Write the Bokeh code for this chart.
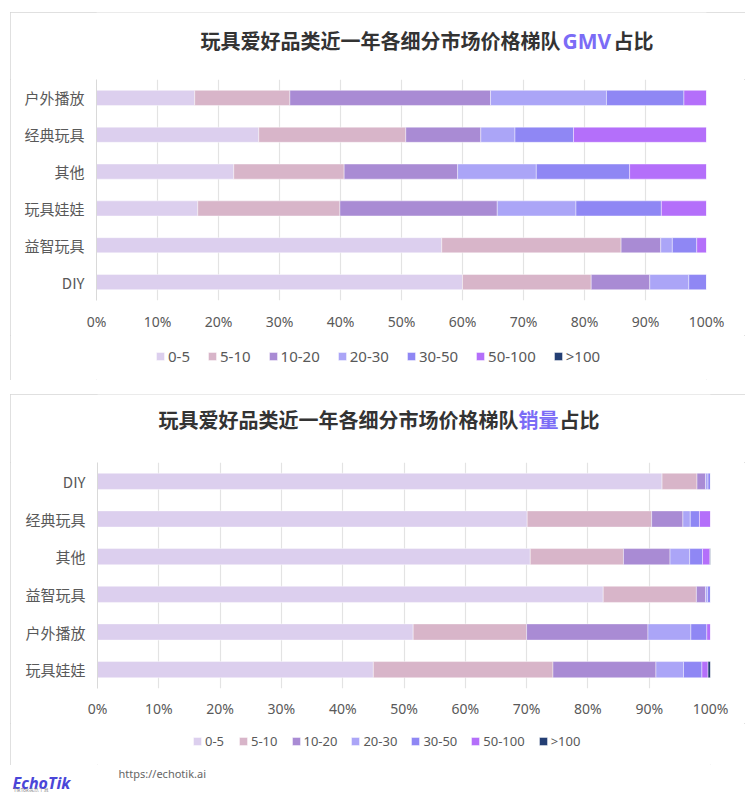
from bokeh.plotting import figure
from bokeh.models import (FactorRange, Range1d, FixedTicker, Legend, LegendItem,
                          Label, ColumnDataSource)
from bokeh.layouts import column
from bokeh.embed import file_html
from bokeh.resources import INLINE

# ---------------- data ----------------
price_tiers = ["0-5", "5-10", "10-20", "20-30", "30-50", "50-100", ">100"]
tier_colors = ["#dccfee", "#d8b5c9", "#a98bd4", "#aba5f7", "#8f87f4", "#b46ffa", "#243f74"]

pct_ticks = [0, 10, 20, 30, 40, 50, 60, 70, 80, 90, 100]
pct_tick_labels = ["0%", "10%", "20%", "30%", "40%", "50%", "60%", "70%", "80%", "90%", "100%"]

# GMV share (%), categories listed top to bottom
gmv_categories = ["户外播放", "经典玩具", "其他", "玩具娃娃", "益智玩具", "DIY"]
gmv_0_5 = [16.1, 26.6, 22.5, 16.6, 56.6, 60.0]
gmv_5_10 = [15.6, 24.1, 18.1, 23.3, 29.4, 21.1]
gmv_10_20 = [32.9, 12.3, 18.6, 25.8, 6.5, 9.6]
gmv_20_30 = [19.0, 5.6, 12.9, 12.9, 1.9, 6.4]
gmv_30_50 = [12.7, 9.6, 15.3, 14.0, 4.0, 2.9]
gmv_50_100 = [3.7, 21.8, 12.6, 7.4, 1.6, 0.0]
gmv_gt_100 = [0.0, 0.0, 0.0, 0.0, 0.0, 0.0]

# Sales volume share (%), categories listed top to bottom
vol_categories = ["DIY", "经典玩具", "其他", "益智玩具", "户外播放", "玩具娃娃"]
vol_0_5 = [92.1, 70.1, 70.6, 82.5, 51.5, 45.0]
vol_5_10 = [5.7, 20.3, 15.2, 15.2, 18.5, 29.3]
vol_10_20 = [1.4, 5.1, 7.6, 1.5, 19.8, 16.8]
vol_20_30 = [0.4, 1.2, 3.2, 0.3, 7.0, 4.5]
vol_30_50 = [0.4, 1.5, 2.1, 0.5, 2.6, 3.0]
vol_50_100 = [0.0, 1.8, 1.2, 0.0, 0.6, 1.0]
vol_gt_100 = [0.0, 0.0, 0.1, 0.0, 0.0, 0.4]

gmv_title = ["玩具爱好品类近一年各细分市场价格梯队", "GMV", "占比"]
vol_title = ["玩具爱好品类近一年各细分市场价格梯队", "销量", "占比"]

CJK = "Noto Sans CJK SC"
LAT = "Noto Sans"
TEXT_GRAY = "#595959"
ACCENT = "#7b6cf6"
PANEL_W = 735


def strip_fig(height, b_left, b_right):
    """Figure whose frame spans its full height, with the same side borders as the chart."""
    fw = PANEL_W - b_left - b_right
    f = figure(width=PANEL_W, height=height, x_range=Range1d(0, fw), y_range=Range1d(0, height),
               output_backend="svg", toolbar_location=None,
               min_border_left=b_left, min_border_right=b_right,
               min_border_top=0, min_border_bottom=0,
               x_axis_location=None, y_axis_location=None)
    f.grid.visible = False
    f.outline_line_color = None
    f.background_fill_color = "white"
    f.border_fill_color = "white"
    return f


def title_fig(height, b_left, b_right, parts, x0, yc, gap, accent_w, accent_font, accent_size):
    t = strip_fig(height, b_left, b_right)
    w1 = 20 * len(parts[0])
    pieces = [(parts[0], x0, "#333333", CJK, "20px"),
              (parts[1], x0 + w1 + gap, ACCENT, accent_font, accent_size),
              (parts[2], x0 + w1 + gap + accent_w, "#333333", CJK, "20px")]
    for txt, xx, col, fnt, fs in pieces:
        t.add_layout(Label(x=xx, y=yc, text=txt, text_font=fnt, text_font_size=fs,
                           text_font_style="bold", text_color=col,
                           text_baseline="middle", text_align="left"))
    return t


def legend_fig(height, b_left, b_right, loc, font, spacing):
    lf = strip_fig(height, b_left, b_right)
    items = []
    for tier, col in zip(price_tiers, tier_colors):
        # sample glyph kept outside the visible strip; only its legend swatch shows
        r = lf.hbar(y=[-50], left=[0], right=[1], height=1, fill_color=col,
                    line_color="white", line_width=0.6, line_alpha=0.7)
        items.append(LegendItem(label=tier, renderers=[r]))
    legend = Legend(items=items, location=loc, orientation="horizontal",
                    label_text_font=LAT, label_text_font_size=font,
                    label_text_color=TEXT_GRAY, glyph_width=10, glyph_height=10,
                    label_standoff=3, spacing=spacing, padding=0, margin=0,
                    border_line_color=None, background_fill_alpha=0)
    lf.add_layout(legend)
    return lf


def chart_fig(categories, series, height, b_left, b_right, b_bottom, bar_h, tick_standoff):
    p = figure(width=PANEL_W, height=height,
               y_range=FactorRange(factors=list(reversed(categories))),
               x_range=Range1d(0, 100),
               output_backend="svg", toolbar_location=None,
               min_border_left=b_left, min_border_right=b_right,
               min_border_top=0, min_border_bottom=b_bottom)
    p.outline_line_color = None
    p.background_fill_color = "white"
    p.border_fill_color = "white"

    keys = [f"s{i}" for i in range(len(series))]
    data = {"cat": categories}
    for k, s in zip(keys, series):
        data[k] = s
    src = ColumnDataSource(data)
    p.hbar_stack(keys, y="cat", height=bar_h, fill_color=tier_colors,
                 line_color="white", line_width=0.6, line_alpha=0.7, source=src)

    p.xaxis.ticker = FixedTicker(ticks=pct_ticks)
    p.xaxis.major_label_overrides = {t: l for t, l in zip(pct_ticks, pct_tick_labels)}
    p.xaxis.axis_line_color = None
    p.xaxis.major_tick_line_color = None
    p.xaxis.minor_tick_line_color = None
    p.xaxis.major_tick_out = 0
    p.xaxis.major_label_standoff = tick_standoff
    p.xaxis.major_label_text_font = LAT
    p.xaxis.major_label_text_font_size = "14px"
    p.xaxis.major_label_text_color = TEXT_GRAY

    p.yaxis.axis_line_color = "#d9d9d9"
    p.yaxis.major_tick_line_color = None
    p.yaxis.minor_tick_line_color = None
    p.yaxis.major_tick_out = 0
    p.yaxis.major_label_standoff = 12
    p.yaxis.major_label_text_font = CJK
    p.yaxis.major_label_text_font_size = "15px"
    p.yaxis.major_label_text_color = TEXT_GRAY

    p.xgrid.ticker = FixedTicker(ticks=pct_ticks)
    p.xgrid.grid_line_color = "#e3e3e3"
    p.xgrid.grid_line_width = 1.2
    p.ygrid.grid_line_color = None
    return p


PANEL_STYLE = {"outline": "1px solid #d6d6d6", "outline-offset": "-1px"}

# panel 1 (GMV): page y 12..380
t1 = title_fig(67, 86, 39, gmv_title, 104, 39, 2, 51, LAT, "21px")
p1 = chart_fig(gmv_categories,
               [gmv_0_5, gmv_5_10, gmv_10_20, gmv_20_30, gmv_30_50, gmv_50_100, gmv_gt_100],
               256, 86, 39, 35, 0.41, 11)
l1 = legend_fig(45, 86, 39, (59, 14), "15px", 17)
panel1 = column(t1, p1, l1, spacing=0, margin=(12, 0, 0, 10), styles=PANEL_STYLE)

# panel 2 (sales volume): page y 394..765
t2 = title_fig(68, 87, 35, vol_title, 61, 43, 0, 41, CJK, "20px")
p2 = chart_fig(vol_categories,
               [vol_0_5, vol_5_10, vol_10_20, vol_20_30, vol_30_50, vol_50_100, vol_gt_100],
               261, 87, 35, 35, 0.43, 10)
l2 = legend_fig(42, 87, 35, (95, 15), "13px", 13)
panel2 = column(t2, p2, l2, spacing=0, margin=(14, 0, 0, 10), styles=PANEL_STYLE)

# footer with logo and URL (page y 765..792)
p3 = figure(width=300, height=27, x_range=Range1d(0, 300), y_range=Range1d(0, 27),
            output_backend="svg", toolbar_location=None, min_border=0,
            x_axis_location=None, y_axis_location=None)
p3.grid.visible = False
p3.outline_line_color = None
p3.add_layout(Label(x=12, y=10, text="EchoTik", text_font=LAT, text_font_size="16px",
                    text_font_style="bold italic", text_color="#4a46d8",
                    text_baseline="alphabetic"))
p3.add_layout(Label(x=118, y=19, text="https://echotik.ai", text_font=LAT,
                    text_font_size="11px", text_color="#666666", text_baseline="middle"))
p3.add_layout(Label(x=13, y=3, text="TikTok选品工具", text_font=CJK,
                    text_font_size="5px", text_color="#888888", text_baseline="middle"))

layout = column(panel1, panel2, p3, spacing=0)
open("out.html", "w").write(file_html(layout, INLINE))
